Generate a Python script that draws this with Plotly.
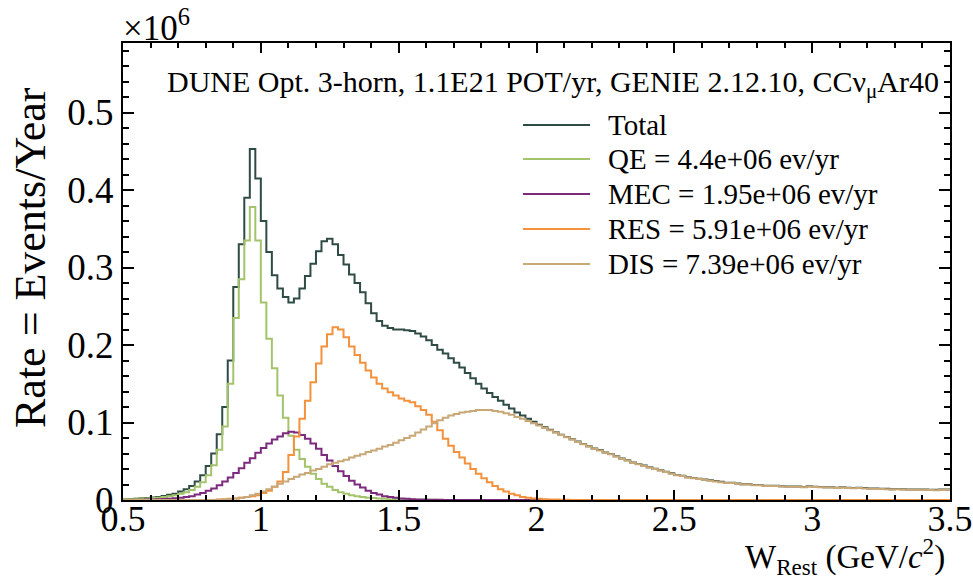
import plotly.graph_objects as go

# ---------------- data (rates in units of 10^6 events / year, per bin) ----------------
W_LOW, W_HIGH, BIN_WIDTH = 0.5, 3.5, 0.02   # histogram binning in W_Rest (GeV/c^2)

total = [
    .001, .0012, .0017, .0023, .0026, .0032, .004, .0053, .0067, .0082,
    .011, .014, .018, .024, .032, .044, .060, .085, .120, .180,
    .275, .330, .390, .453, .415, .360, .320, .290, .273, .262,
    .255, .260, .273, .289, .305, .321, .334, .337, .330, .316,
    .304, .291, .280, .268, .254, .241, .231, .225, .222, .220,
    .220, .219, .218, .215, .211, .206, .200, .194, .189, .183,
    .177, .171, .164, .157, .150, .144, .138, .133, .128, .123,
    .118, .113, .109, .105, .101, .097, .094, .0908, .0875, .0843,
    .0812, .0784,
    .0754, .0724, .0694, .0664, .0644, .0614, .0594, .0564, .0534, .0514,
    .0484, .0464, .0444, .0424, .0404, .0384, .0364, .0344, .0324, .0314,
    .0294, .0284, .0274, .0264, .0254, .0244, .0234, .0224, .0224, .0214,
    .0204, .0204, .0194, .0194, .0184, .0184, .0184, .0179, .0174, .0174,
    .0174, .0169, .0179, .0172, .0169, .0164, .0166, .0159, .0164, .0159,
    .0156, .0159, .0154, .0149, .0147, .0146, .0144, .0139, .0142, .0138,
    .0136, .0137, .0134, .0135, .0133, .0131, .0134, .0135,
]

qe = [
    .001, .001, .0015, .002, .002, .0025, .003, .004, .005, .006,
    .008, .010, .013, .017, .023, .032, .045, .065, .095, .150,
    .235, .285, .335, .378, .335, .255, .208, .170, .135, .106,
    .083, .065, .053, .043, .034, .027, .021, .017, .013, .010,
    .008, .006, .005, .004, .003, .0025, .002, .0015, .001, .001,
    .0008, .0006, .0005, .0004, .0003, .0002, .0002, .0001, .0001, 0,
    0, 0, 0, 0, 0, 0, 0, 0, 0, 0,
    0, 0, 0, 0, 0, 0, 0, 0, 0, 0,
    0, 0, 0, 0, 0, 0, 0, 0, 0, 0,
    0, 0, 0, 0, 0, 0, 0, 0, 0, 0,
    0, 0, 0, 0, 0, 0, 0, 0, 0, 0,
    0, 0, 0, 0, 0, 0, 0, 0, 0, 0,
    0, 0, 0, 0, 0, 0, 0, 0, 0, 0,
    0, 0, 0, 0, 0, 0, 0, 0, 0, 0,
    0, 0, 0, 0, 0, 0, 0, 0, 0, 0,
]

mec = [
    0, 0, .0002, .0003, .0005, .0007, .001, .0013, .0017, .0022,
    .003, .004, .005, .007, .009, .012, .015, .019, .024, .029,
    .035, .041, .048, .054, .061, .067, .073, .078, .082, .086,
    .088, .087, .084, .079, .073, .066, .058, .051, .044, .037,
    .031, .025, .020, .016, .012, .009, .007, .005, .004, .003,
    .002, .0015, .001, .0008, .0006, .0004, .0003, .0002, .0001, 0,
    0, 0, 0, 0, 0, 0, 0, 0, 0, 0,
    0, 0, 0, 0, 0, 0, 0, 0, 0, 0,
    0, 0, 0, 0, 0, 0, 0, 0, 0, 0,
    0, 0, 0, 0, 0, 0, 0, 0, 0, 0,
    0, 0, 0, 0, 0, 0, 0, 0, 0, 0,
    0, 0, 0, 0, 0, 0, 0, 0, 0, 0,
    0, 0, 0, 0, 0, 0, 0, 0, 0, 0,
    0, 0, 0, 0, 0, 0, 0, 0, 0, 0,
    0, 0, 0, 0, 0, 0, 0, 0, 0, 0,
]

res = [
    0, 0, 0, 0, 0, 0, 0, 0, 0, 0,
    0, 0, 0, 0, 0, 0, 0,
    .0005, .001, .0015, .002, .003, .004, .005, .006, .009, .012,
    .017, .024, .036, .058, .082, .105, .128, .152, .176, .198,
    .214, .223, .220, .210, .198, .187, .177, .167, .158, .150,
    .144, .139, .135, .131, .128, .126, .121, .116, .110, .101,
    .090, .079, .070, .062, .055, .047, .040, .034, .028, .023,
    .018, .014, .011, .008, .006, .004, .003, .002, .0015, .001,
    .0008, .0005, .0003, .0002,
    0, 0, 0, 0, 0, 0, 0, 0, 0, 0,
    0, 0, 0, 0, 0, 0, 0, 0, 0, 0,
    0, 0, 0, 0, 0, 0, 0, 0, 0, 0,
    0, 0, 0, 0, 0, 0, 0, 0, 0, 0,
    0, 0, 0, 0, 0, 0, 0, 0, 0, 0,
    0, 0, 0, 0, 0, 0, 0, 0, 0, 0,
    0, 0, 0, 0, 0, 0, 0, 0, 0,
]

dis = [
    0, 0, 0, 0, 0, 0, 0, 0, 0, 0,
    0, 0, 0, 0, 0, 0, 0,
    .0003, .0006, .001, .002, .003, .004, .006, .008, .011, .014,
    .017, .021, .024, .027, .030, .033, .035, .038, .040, .043,
    .046, .048, .050, .052, .055, .057, .059, .062, .064, .066,
    .069, .071, .074, .077, .080, .083, .087, .091, .095, .099,
    .103, .106, .109, .111, .113, .114, .115, .116, .116, .116,
    .115, .114, .112, .110, .107, .105, .102, .099, .096, .093,
    .090, .087, .084, .081,
    .078,
    .075, .072, .069, .066, .064, .061, .059, .056, .053, .051,
    .048, .046, .044, .042, .040, .038, .036, .034, .032, .031,
    .029, .028, .027, .026, .025, .024, .023, .022, .022, .021,
    .020, .020, .019, .019, .018, .018, .018, .0175, .017, .017,
    .017, .0165, .0175, .0168, .0165, .016, .0162, .0155, .016, .0155,
    .0152, .0155, .015, .0145, .0143, .0142, .0140, .0135, .0138, .0134,
    .0132, .0133, .0130, .0131, .0129, .0127, .0130, .0131,
]

series_names = ["Total", "QE", "MEC", "RES", "DIS"]
legend_labels = ["Total", "QE = 4.4e+06 ev/yr", "MEC = 1.95e+06 ev/yr",
                 "RES = 5.91e+06 ev/yr", "DIS = 7.39e+06 ev/yr"]
x_ticks = [0.5, 1, 1.5, 2, 2.5, 3, 3.5]
y_ticks = [0, 0.1, 0.2, 0.3, 0.4, 0.5]

# ---------------- style ----------------
colors = ["#2f4c44", "#a3c46c", "#7c2a7e", "#f3913c", "#c9a878"]
FONT = "Liberation Serif"

n_bins = round((W_HIGH - W_LOW) / BIN_WIDTH)
all_series = [total, qe, mec, res, dis]
for s in all_series:
    assert len(s) == n_bins, len(s)
edges = [W_LOW + BIN_WIDTH * i for i in range(n_bins + 1)]

fig = go.Figure()
for name, vals, col in zip(series_names, all_series, colors):
    fig.add_trace(go.Scatter(
        x=edges, y=list(vals) + [vals[-1]], mode="lines", name=name,
        line=dict(shape="hv", color=col, width=2), showlegend=False,
    ))

W, H = 973, 582
L, R, T, B = 123, 23, 43, 82
pw, ph = W - L - R, H - T - B

def px(xp):
    return (xp - L) / pw

def py(yp):
    return (H - B - yp) / ph

# manual legend (ROOT-style long line samples)
leg_rows = [125, 159, 194, 229, 264]
shapes = []
annotations = []
for lab, col, yr in zip(legend_labels, colors, leg_rows):
    shapes.append(dict(type="line", xref="paper", yref="paper",
                       x0=px(523), x1=px(590), y0=py(yr), y1=py(yr),
                       line=dict(color=col, width=2)))
    annotations.append(dict(text=lab, xref="paper", yref="paper",
                            x=px(606), y=py(yr), xanchor="left", yanchor="middle",
                            showarrow=False, font=dict(family=FONT, size=29, color="black")))

annotations.append(dict(
    text="DUNE Opt. 3-horn, 1.1E21 POT/yr, GENIE 2.12.10, CCν<sub>μ</sub>Ar40",
    xref="paper", yref="paper", x=px(553), y=py(84), xanchor="center", yanchor="middle",
    showarrow=False, font=dict(family=FONT, size=30, color="black")))
annotations.append(dict(
    text="×10<sup>6</sup>", xref="paper", yref="paper", x=px(121), y=py(1),
    xanchor="left", yanchor="top", showarrow=False,
    font=dict(family=FONT, size=35, color="black")))
annotations.append(dict(
    text="W<sub>Rest</sub> (GeV/<i>c</i><sup>2</sup>)", xref="paper", yref="paper",
    x=px(947), y=py(556), xanchor="right", yanchor="middle", showarrow=False,
    font=dict(family=FONT, size=33, color="black")))
annotations.append(dict(
    text="Rate = Events/Year", xref="paper", yref="paper", textangle=-90,
    x=px(30), y=py(258), xanchor="center", yanchor="middle", showarrow=False,
    font=dict(family=FONT, size=44, color="black")))

axis_common = dict(
    showline=True, linecolor="black", linewidth=2, mirror="allticks",
    ticks="inside", tickcolor="black", tickwidth=1.5, showgrid=False, zeroline=False,
    ticklabeloverflow="allow",
)
fig.update_xaxes(range=[W_LOW, W_HIGH], tickvals=x_ticks, ticklen=10,
                 ticklabelposition="outside", ticklabelstandoff=-14,
                 tickfont=dict(family=FONT, size=36, color="black"),
                 minor=dict(dtick=0.1, ticks="inside", ticklen=5, tickcolor="black", tickwidth=1.5),
                 **axis_common)
fig.update_yaxes(range=[0, ph / 775.0], tickvals=y_ticks, ticklen=11,
                 tickfont=dict(family=FONT, size=37, color="black"),
                 minor=dict(dtick=0.02, ticks="inside", ticklen=6, tickcolor="black", tickwidth=1.5),
                 **axis_common)

fig.update_layout(
    width=W, height=H, margin=dict(l=L, r=R, t=T, b=B, autoexpand=False),
    paper_bgcolor="white", plot_bgcolor="white", showlegend=False,
    shapes=shapes, annotations=annotations,
)
fig.write_html("out.html")
